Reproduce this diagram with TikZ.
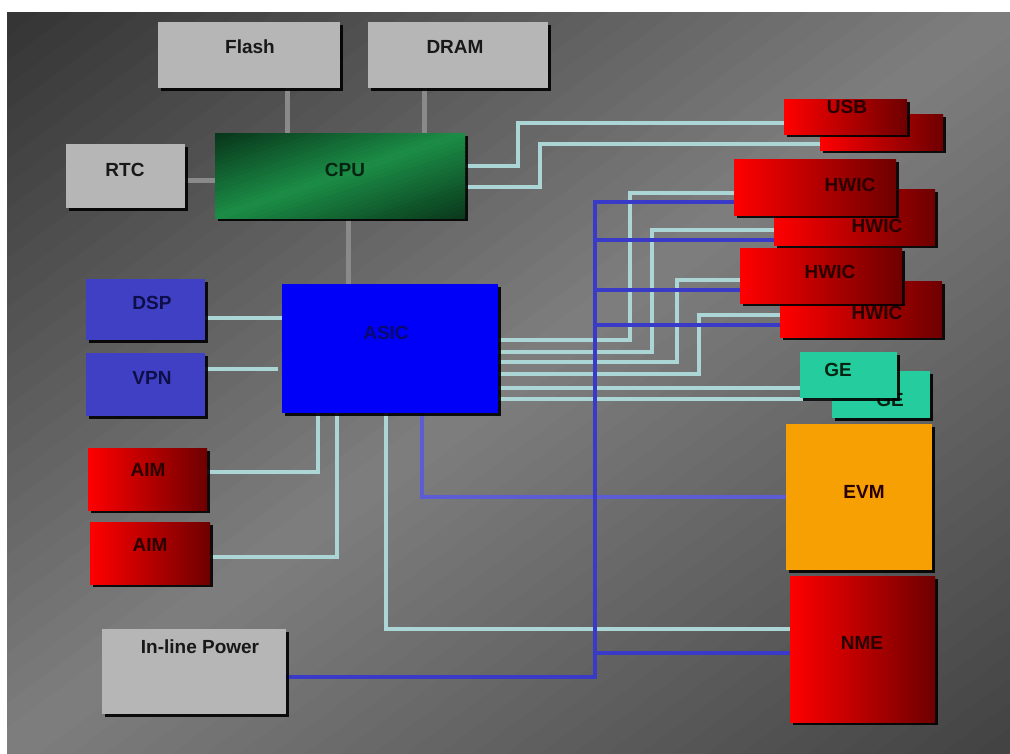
\documentclass[tikz,border=0pt]{standalone}
\usepackage{fontspec}
\setmainfont{Liberation Sans}
\usetikzlibrary{shadows}
\pgfdeclarelayer{back}
\pgfdeclarelayer{wires}
\pgfsetlayers{back,wires,main}
\definecolor{lgray}{RGB}{182,182,182}
\definecolor{conngray}{RGB}{138,138,138}
\definecolor{cyanC}{RGB}{172,214,214}
\definecolor{blueC}{RGB}{58,58,200}
\definecolor{blueL}{RGB}{92,92,212}
\definecolor{dspC}{RGB}{64,64,196}
\definecolor{asicC}{RGB}{0,0,248}
\definecolor{geC}{RGB}{36,204,158}
\definecolor{evmC}{RGB}{246,160,4}
\definecolor{redA}{RGB}{255,0,0}
\definecolor{redB}{RGB}{110,0,0}
\definecolor{txtK}{RGB}{24,24,24}
\definecolor{txtR}{RGB}{40,0,0}
\definecolor{txtG}{RGB}{6,36,18}
\definecolor{txtB}{RGB}{14,14,72}
\definecolor{txtA}{RGB}{10,10,110}
\begin{document}
\begin{tikzpicture}[x=1pt,y=-1pt,
  box/.style={draw=none, inner sep=0pt, outer sep=0pt, anchor=north west,
    drop shadow={shadow xshift=3pt, shadow yshift=-3pt, opacity=0.9, fill=black}},
  graybox/.style={box, fill=lgray},
  redbox/.style={box, left color=redA, right color=redB},
  lbl/.style={font=\bfseries\fontsize{19}{22}\selectfont, text=txtK, inner sep=0pt},
  grayln/.style={line width=5pt, color=conngray},
  cyanln/.style={line width=4pt, color=cyanC},
  blueln/.style={line width=4pt, color=blueC},
  bluelt/.style={line width=4pt, color=blueL}]
\useasboundingbox (0,0) rectangle (1010,753);
\begin{pgfonlayer}{back}
\fill[white] (0,0) rectangle (1010,753);
\begin{scope}
\clip (7,12) rectangle (1010,753);
\foreach \i in {0,...,59}{
  \pgfmathsetmacro{\ta}{\i/60}
  \pgfmathsetmacro{\tb}{(\i+1)/60}
  \pgfmathsetmacro{\tm}{(\i+0.5)/60}
  \pgfmathtruncatemacro{\v}{\tm<0.5 ? 52+150*\tm : 127-122*(\tm-0.5)}
  \definecolor{bandc}{RGB}{\v,\v,\v}
  \fill[bandc, draw=bandc, line width=0.8pt] (7+2006*\ta,12) -- (7+2006*\tb,12) -- (7,12+1482*\tb) -- (7,12+1482*\ta) -- cycle;
}
\end{scope}
\end{pgfonlayer}

% ---------- boxes (nodes) ----------
\node[graybox, minimum width=182pt, minimum height=66pt] (flash) at (158,22) {};
\node[graybox, minimum width=180pt, minimum height=66pt] (dram) at (368,22) {};
\node[graybox, minimum width=119pt, minimum height=64pt] (rtc) at (66,144) {};
\node[box, fill=black, minimum width=250pt, minimum height=85pt] (cpu) at (215,133) {};
\begin{scope}
\clip (cpu.north west) rectangle (cpu.south east);
\foreach \i in {0,...,39}{
  \pgfmathsetmacro{\ta}{\i/40}
  \pgfmathsetmacro{\tb}{(\i+1)/40}
  \pgfmathsetmacro{\tm}{(\i+0.5)/40}
  \pgfmathtruncatemacro{\vr}{\tm<0.5 ? 8+40*\tm : 28-36*(\tm-0.5)}
  \pgfmathtruncatemacro{\vg}{\tm<0.5 ? 52+180*\tm : 142-170*(\tm-0.5)}
  \pgfmathtruncatemacro{\vb}{\tm<0.5 ? 26+90*\tm : 71-86*(\tm-0.5)}
  \definecolor{bandc}{RGB}{\vr,\vg,\vb}
  \fill[bandc, draw=bandc, line width=0.8pt] (215+500*\ta,133) -- (215+500*\tb,133) -- (215,133+170*\tb) -- (215,133+170*\ta) -- cycle;
}
\end{scope}
\node[box, fill=asicC, minimum width=216pt, minimum height=129pt] (asic) at (282,284) {};
\node[box, fill=dspC, minimum width=119pt, minimum height=61pt] (dsp) at (86,279) {};
\node[box, fill=dspC, minimum width=119pt, minimum height=63pt] (vpn) at (86,353) {};
\node[redbox, minimum width=119pt, minimum height=62pt] (aimA) at (88,448) {};
\node[redbox, minimum width=120pt, minimum height=62pt] (aimB) at (90,522) {};
\node[graybox, minimum width=184pt, minimum height=85pt] (power) at (102,629) {};
\node[box, fill=evmC, minimum width=146pt, minimum height=146pt] (evm) at (786,424) {};
\node[redbox, minimum width=145pt, minimum height=146pt] (nme) at (790,576) {};
\node[redbox, minimum width=123pt, minimum height=36pt] (usbB) at (820,114) {};
\node[redbox, minimum width=123pt, minimum height=35pt] (usbA) at (784,99) {};
\node[redbox, minimum width=161pt, minimum height=56pt] (hwB) at (774,189) {};
\node[lbl, text=txtR] (hwBT) at (877,226) {HWIC};
\node[redbox, minimum width=162pt, minimum height=56pt] (hwA) at (734,159) {};
\node[redbox, minimum width=162pt, minimum height=56pt] (hwD) at (780,281) {};
\node[lbl, text=txtR] (hwDT) at (877,313) {HWIC};
\node[redbox, minimum width=162pt, minimum height=55pt] (hwC) at (740,248) {};
\node[box, fill=geC, minimum width=98pt, minimum height=47pt] (geB) at (832,371) {};
\node[lbl, text=txtG] (geBT) at (890,400) {GE};
\node[box, fill=geC, minimum width=97pt, minimum height=46pt] (geA) at (800,352) {};

% ---------- labels ----------
\node[lbl] (flashT) at (250,47) {Flash};
\node[lbl] (dramT) at (455,47) {DRAM};
\node[lbl] (rtcT) at (125,170) {RTC};
\node[lbl, text=txtG] (cpuT) at (345,170) {CPU};
\node[lbl, text=txtA] (asicT) at (386,333) {ASIC};
\node[lbl, text=txtB] (dspT) at (152,303) {DSP};
\node[lbl, text=txtB] (vpnT) at (152,378) {VPN};
\node[lbl, text=txtR] (aimAT) at (148,470) {AIM};
\node[lbl, text=txtR] (aimBT) at (150,545) {AIM};
\node[lbl] (powerT) at (200,647) {In-line Power};
\node[lbl, text=txtR] (usbT) at (847,107) {USB};
\node[lbl, text=txtR] (hwAT) at (850,185) {HWIC};
\node[lbl, text=txtR] (hwCT) at (830,272) {HWIC};
\node[lbl, text=txtG] (geAT) at (838,370) {GE};
\node[lbl, text=txtR] (evmT) at (864,492) {EVM};
\node[lbl, text=txtR] (nmeT) at (862,643) {NME};

% ---------- connectors ----------
\begin{pgfonlayer}{wires}
\path ([xshift=38pt]flash.south) coordinate (fO)
      ([xshift=-34pt]dram.south) coordinate (dO)
      ([yshift=-4pt]rtc.east) coordinate (rO)
      ([xshift=8pt]cpu.south) coordinate (cO);
\draw[grayln] (fO) -- (fO |- cpu.north);
\draw[grayln] (dO) -- (dO |- cpu.north);
\draw[grayln] (rO) -- (rO -| cpu.west);
\draw[grayln] (cO) -- (cO |- asic.north);

% CPU to USB
\coordinate (jU1) at (518,0);
\coordinate (jU2) at (540,0);
\path ([yshift=9.5pt]cpu.east) coordinate (cu1)
      ([yshift=-11.5pt]cpu.east) coordinate (cu2)
      ([yshift=-6.5pt]usbA.west) coordinate (ua)
      ([yshift=-12pt]usbB.west) coordinate (ub);
\draw[cyanln] (cu1) -- (cu1 -| jU1) |- (ua);
\draw[cyanln] (cu2) -- (cu2 -| jU2) |- (ub);

% ASIC right side to HWIC / GE
\coordinate (j1) at (630,0);
\coordinate (j2) at (652,0);
\coordinate (j3) at (677,0);
\coordinate (j4) at (699,0);
\path ([yshift=8.5pt]asic.east) coordinate (a1)
      ([yshift=-3.5pt]asic.east) coordinate (a2)
      ([yshift=-13.5pt]asic.east) coordinate (a3)
      ([yshift=-25.5pt]asic.east) coordinate (a4)
      ([yshift=-39.5pt]asic.east) coordinate (a5)
      ([yshift=-50.5pt]asic.east) coordinate (a6)
      ([yshift=-6pt]hwA.west) coordinate (h1)
      ([yshift=-13pt]hwB.west) coordinate (h2)
      ([yshift=-4.5pt]hwC.west) coordinate (h3)
      ([yshift=-6pt]hwD.west) coordinate (h4);
\draw[cyanln] (a1) -- (a1 -| j1) |- (h1);
\draw[cyanln] (a2) -- (a2 -| j2) |- (h2);
\draw[cyanln] (a3) -- (a3 -| j3) |- (h3);
\draw[cyanln] (a4) -- (a4 -| j4) |- (h4);
\draw[cyanln] (a5) -- (a5 -| geA.west);
\draw[cyanln] (a6) -- (a6 -| geB.west);

% left side to ASIC
\path ([yshift=-8.5pt]dsp.east) coordinate (dsO)
      ([yshift=15.5pt]vpn.east) coordinate (vpO)
      ([yshift=7pt]aimA.east) coordinate (am1)
      ([yshift=-4pt]aimB.east) coordinate (am2)
      ([xshift=-72pt]asic.south) coordinate (as1)
      ([xshift=-53pt]asic.south) coordinate (as2)
      ([xshift=-4pt]asic.south) coordinate (as3)
      ([xshift=32pt]asic.south) coordinate (as4)
      ([yshift=20pt]nme.west) coordinate (nm1)
      ([yshift=-4pt]nme.west) coordinate (nm2);
\draw[cyanln] (dsO) -- (dsO -| asic.west);
\draw[cyanln] (vpO) -- ([xshift=-4pt]vpO -| asic.west);
\draw[cyanln] (am1) -| (as1);
\draw[cyanln] (am2) -| (as2);
\draw[cyanln] (as3) |- (nm1);
\draw[bluelt] (as4) |- (evm.west);

% blue power bus
\coordinate (bus) at (595,0);
\path ([yshift=-5.5pt]power.east) coordinate (pw)
      ([yshift=-15pt]hwA.west) coordinate (b1)
      ([yshift=-23pt]hwB.west) coordinate (b2)
      ([yshift=-14.5pt]hwC.west) coordinate (b3)
      ([yshift=-16pt]hwD.west) coordinate (b4);
\draw[blueln] (pw) -- (pw -| bus) |- (b1);
\draw[blueln] (b2) -- (b2 -| bus);
\draw[blueln] (b3) -- (b3 -| bus);
\draw[blueln] (b4) -- (b4 -| bus);
\draw[blueln] (nm2) -- (nm2 -| bus);
\end{pgfonlayer}
\end{tikzpicture}
\end{document}
